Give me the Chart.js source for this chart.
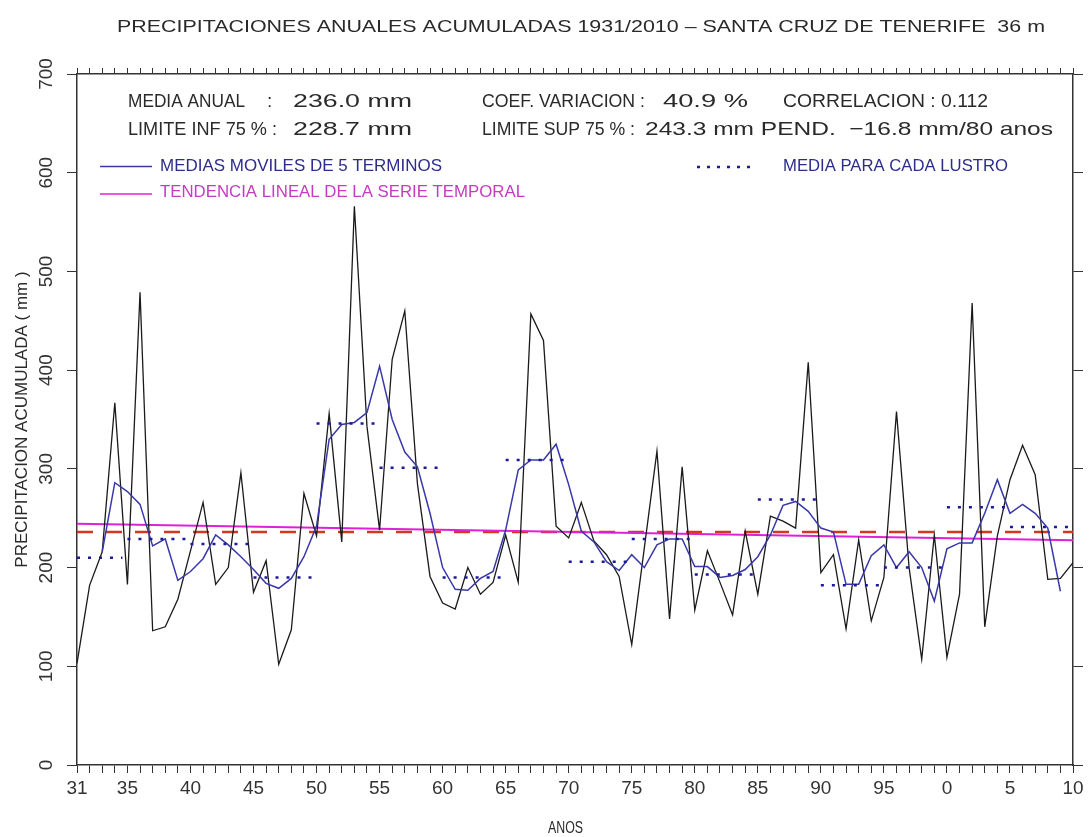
<!DOCTYPE html>
<html>
<head>
<meta charset="utf-8">
<script src="https://cdn.jsdelivr.net/npm/chart.js@4/dist/chart.umd.min.js"></script>
<style>
  html, body { margin: 0; padding: 0; background: #fff; }
  #wrap { width: 1089px; height: 837px; position: relative; }
</style>
</head>
<body>
<div id="wrap"><canvas id="rainChart"></canvas></div>
<script>
// annual totals 1931..2010 (mm)
const firstYear = 1931;
const lastYear = 2010;
const annual = [
  103, 182, 216, 367, 183, 479, 136, 140, 168, 217,
  266, 183, 200, 296, 175, 207, 102, 137, 275, 232,
  356, 226, 566, 343, 238, 411, 460, 285, 191, 164,
  158, 200, 173, 185, 233, 185, 457, 430, 242, 230,
  266, 227, 213, 191, 122, 220, 318, 148, 302, 157,
  217, 185, 152, 237, 173, 252, 247, 240, 408, 195,
  213, 138, 228, 146, 190, 358, 200, 107, 233, 109,
  173, 468, 140, 232, 289, 324, 294, 188, 189, 205
];

// 5-term moving average, 1933..2009
const maFirstYear = 1933;
const movingAvg = [
  216, 286, 277, 264, 222, 229, 187, 196, 209, 233,
  223, 211, 198, 184, 179, 189, 211, 242, 330, 345,
  347, 357, 404, 350, 317, 302, 255, 200, 178, 177,
  189, 196, 238, 299, 309, 309, 325, 284, 237, 226,
  206, 197, 213, 200, 223, 229, 229, 201, 201, 190,
  192, 198, 211, 233, 263, 267, 257, 240, 236, 183,
  183, 212, 223, 200, 216, 200, 166, 219, 225, 225,
  255, 289, 255, 264, 255, 240, 176
];

// mean of each lustro (as plotted)
const lustroStart = [1931, 1935, 1940, 1945, 1950, 1955, 1960, 1965, 1970, 1975, 1980, 1985, 1990, 1995, 2000, 2005];
const lustroEnd   = [1934.6, 1939.6, 1944.6, 1949.6, 1954.6, 1959.6, 1964.6, 1969.6, 1974.6, 1979.6, 1984.6, 1989.6, 1994.6, 1999.6, 2004.6, 2009.8];
const lustroMean  = [210, 229, 224, 190, 346, 301, 190, 309, 206, 229, 193, 269, 182, 200, 261, 241];

const meanAnnual = 236.0;
const trendStart = 244.4;  // 1931
const trendEnd = 227.6;    // 2010

const years = [];
for (let y = firstYear; y <= lastYear; y++) years.push(y);

const annualPts = annual.map((v, i) => ({ x: firstYear + i, y: v }));
const maPts = movingAvg.map((v, i) => ({ x: maFirstYear + i, y: v }));
const lustroPts = [];
lustroStart.forEach((s, i) => {
  lustroPts.push({ x: s, y: lustroMean[i] });
  lustroPts.push({ x: lustroEnd[i], y: lustroMean[i] });
  lustroPts.push({ x: lustroEnd[i], y: null });
});

const FONT = '"Liberation Sans", Arial, Helvetica, sans-serif';

function fitText(ctx, text, x, y, width, size, color) {
  ctx.save();
  ctx.font = size + 'px ' + FONT;
  ctx.fillStyle = color;
  ctx.textBaseline = 'middle';
  ctx.textAlign = 'left';
  const w = ctx.measureText(text).width;
  ctx.translate(x, y);
  if (width) ctx.scale(width / w, 1);
  ctx.fillText(text, 0, 0);
  ctx.restore();
}

function hline(ctx, x1, x2, y, color, lw, dash) {
  ctx.save();
  ctx.strokeStyle = color;
  ctx.lineWidth = lw;
  ctx.setLineDash(dash || []);
  ctx.beginPath();
  ctx.moveTo(x1, y);
  ctx.lineTo(x2, y);
  ctx.stroke();
  ctx.restore();
}

const textPlugin = {
  id: 'textPlugin',
  afterDraw(chart) {
    const ctx = chart.ctx;
    const ink = '#2a2a2a';
    fitText(ctx, 'PRECIPITACIONES ANUALES ACUMULADAS 1931/2010 \u2013 SANTA CRUZ DE TENERIFE  36 m', 117, 27, 928, 17, ink);
    // stats block
    fitText(ctx, 'MEDIA ANUAL', 128, 102, 117, 19, ink);
    fitText(ctx, ':', 267, 102, null, 19, ink);
    fitText(ctx, '236.0 mm', 293, 102, 119, 19, ink);
    fitText(ctx, 'COEF. VARIACION :', 482, 102, 163, 19, ink);
    fitText(ctx, '40.9 %', 663, 102, 85, 19, ink);
    fitText(ctx, 'CORRELACION : 0.112', 783, 102, 205, 19, ink);
    fitText(ctx, 'LIMITE INF 75 % :', 128, 130, 149, 19, ink);
    fitText(ctx, '228.7 mm', 293, 130, 119, 19, ink);
    fitText(ctx, 'LIMITE SUP 75 % :', 482, 130, 153, 19, ink);
    fitText(ctx, '243.3 mm PEND.  \u221216.8 mm/80 anos', 645, 130, 408, 19, ink);
    // legend
    hline(ctx, 100, 152, 166.5, '#3a3aa6', 1.5);
    fitText(ctx, 'MEDIAS MOVILES DE 5 TERMINOS', 160, 166, 282, 17, '#2c2c8c');
    hline(ctx, 100, 152, 194, '#e020d8', 1.5);
    fitText(ctx, 'TENDENCIA LINEAL DE LA SERIE TEMPORAL', 160, 192, 365, 17, '#c43cc0');
    hline(ctx, 697, 757, 167, '#1a1a9a', 2.5, [3, 7]);
    fitText(ctx, 'MEDIA PARA CADA LUSTRO', 783, 166.5, 225, 17, '#2c2c8c');
    // x title
    fitText(ctx, 'ANOS', 548, 828, 35, 17, ink);
  }
};

const ctx = document.getElementById('rainChart').getContext('2d');
const axisColor = '#333';

new Chart(ctx, {
  type: 'line',
  data: {
    datasets: [
      {
        label: 'Media para cada lustro',
        data: lustroPts,
        borderColor: '#1a1a9a',
        borderWidth: 2.5,
        borderDash: [3, 8],
        pointRadius: 0,
        spanGaps: false
      },
      {
        label: 'Medias moviles de 5 terminos',
        data: maPts,
        borderColor: '#3838a8',
        borderWidth: 1.5,
        pointRadius: 0
      },
      {
        label: 'Precipitacion anual',
        data: annualPts,
        borderColor: '#1a1a1a',
        borderWidth: 1.3,
        pointRadius: 0
      },
      {
        label: 'Tendencia lineal',
        data: [{ x: firstYear, y: trendStart }, { x: lastYear, y: trendEnd }],
        borderColor: '#e020d8',
        borderWidth: 2,
        pointRadius: 0
      },
      {
        label: 'Media anual',
        data: [{ x: firstYear, y: meanAnnual }, { x: lastYear, y: meanAnnual }],
        borderColor: '#d2381e',
        borderWidth: 2.5,
        borderDash: [16, 13],
        pointRadius: 0
      }
    ]
  },
  options: {
    responsive: true,
    maintainAspectRatio: false,
    animation: false,
    layout: { padding: 0 },
    plugins: {
      legend: { display: false },
      title: { display: false },
      tooltip: { enabled: false }
    },
    scales: {
      x: {
        type: 'linear',
        position: 'bottom',
        min: firstYear,
        max: lastYear,
        afterBuildTicks: (scale) => { scale.ticks = years.map(v => ({ value: v })); },
        afterFit: (scale) => { scale.height = 72; },
        grid: { drawOnChartArea: false, tickLength: 8, color: axisColor, lineWidth: 1 },
        border: { color: axisColor, width: 1.5 },
        ticks: {
          autoSkip: false,
          maxRotation: 0,
          padding: 4,
          color: axisColor,
          font: { family: FONT, size: 19 },
          callback: (v) => (v === firstYear || v % 5 === 0) ? String(v % 100) : ''
        }
      },
      xTop: {
        type: 'linear',
        position: 'top',
        min: firstYear,
        max: lastYear,
        afterBuildTicks: (scale) => { scale.ticks = years.map(v => ({ value: v })); },
        afterFit: (scale) => { scale.height = 74; },
        grid: { drawOnChartArea: false, tickLength: 6, color: axisColor, lineWidth: 1 },
        border: { color: axisColor, width: 1.5 },
        ticks: { autoSkip: false, maxRotation: 0, callback: () => '' }
      },
      y: {
        position: 'left',
        min: 0,
        max: 700,
        afterFit: (scale) => { scale.width = 77; },
        grid: { drawOnChartArea: false, tickLength: 10, color: axisColor, lineWidth: 1 },
        border: { color: axisColor, width: 1.5 },
        title: {
          display: true,
          text: 'PRECIPITACION ACUMULADA ( mm )',
          color: '#2a2a2a',
          font: { family: FONT, size: 17 },
          padding: { top: 12, bottom: 0 }
        },
        ticks: {
          stepSize: 100,
          minRotation: 90,
          maxRotation: 90,
          crossAlign: 'center',
          padding: 4,
          color: axisColor,
          font: { family: FONT, size: 19 }
        }
      },
      yRight: {
        position: 'right',
        min: 0,
        max: 700,
        afterFit: (scale) => { scale.width = 16; },
        grid: { drawOnChartArea: false, tickLength: 10, color: axisColor, lineWidth: 1 },
        border: { color: axisColor, width: 1.5 },
        ticks: { stepSize: 100, callback: () => '' }
      }
    }
  },
  plugins: [textPlugin]
});
</script>
</body>
</html>
